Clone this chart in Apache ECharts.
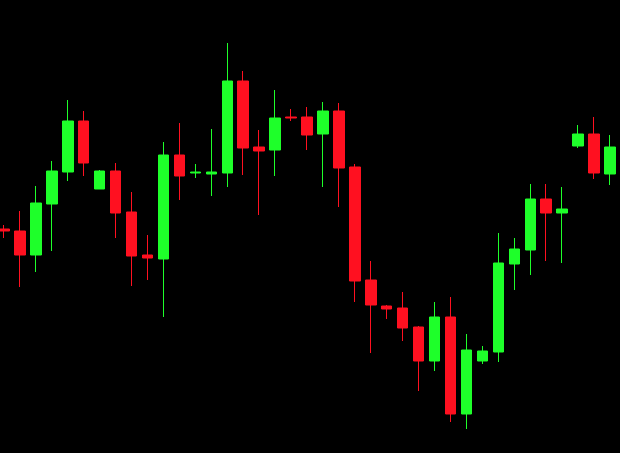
<!DOCTYPE html>
<html>
<head>
<meta charset="utf-8">
<script src="https://cdn.jsdelivr.net/npm/echarts@6/dist/echarts.min.js"></script>
<style>
  html, body { margin: 0; padding: 0; background: #000; overflow: hidden; }
  /* the first candle is cut by the left edge, so the chart starts a bit off-screen */
  #chart { position: absolute; left: -4px; top: 0; width: 624px; height: 453px; }
</style>
</head>
<body>
<div id="chart"></div>
<script>
// price values (arbitrary units)
const days = ['1','2','3','4','5','6','7','8','9','10','11','12','13','14','15','16','17','18','19','20',
  '21','22','23','24','25','26','27','28','29','30','31','32','33','34','35','36','37','38','39']
const opens  = [224,222,198,249,281,332,264,282,241,198,194,298,280,279,280,372,306,303,336,336,
  319,342,286,173,147,145,126,92,136,39,92,101,189,203,254,240,307,319,279]
const closes = [222,198,250,282,332,290,282,240,197,195,298,277,281,281,372,305,302,335,335,318,
  342,285,172,148,144,125,92,136,39,103,102,190,204,254,240,244,319,280,306]
const lows   = [215,166,181,202,272,277,264,215,167,173,136,253,275,257,266,278,238,277,332,303,
  266,246,151,100,134,112,62,82,31,24,89,91,163,178,192,190,305,274,268]
const highs  = [228,242,267,292,353,342,283,290,261,218,311,330,289,324,410,382,323,363,344,346,
  351,350,289,192,148,161,127,151,156,119,107,220,215,269,269,266,328,336,318]

const upColor = '#1eff2a'
const downColor = '#ff1020'

const candles = []
for (let i = 0; i < days.length; i++) {
  candles.push([opens[i], closes[i], lows[i], highs[i]])
}

const chart = echarts.init(document.getElementById('chart'))
chart.setOption({
  backgroundColor: '#000',
  animation: false,
  grid: { left: 0, right: 2, top: 0, bottom: 0 },
  xAxis: {
    type: 'category',
    data: days,
    show: false
  },
  yAxis: {
    type: 'value',
    min: 0,
    max: 453,
    show: false
  },
  series: [{
    type: 'candlestick',
    data: candles,
    barWidth: 11,
    itemStyle: {
      color: upColor,
      color0: downColor,
      borderColor: upColor,
      borderColor0: downColor,
      borderWidth: 1
    }
  }]
})
</script>
</body>
</html>
